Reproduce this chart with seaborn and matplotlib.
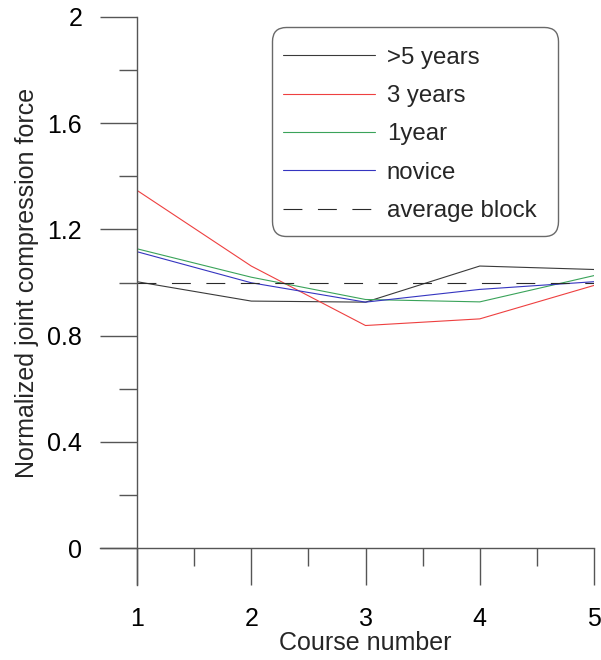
import matplotlib
matplotlib.use("Agg")
import matplotlib.pyplot as plt
from matplotlib.patches import BoxStyle
import seaborn as sns
import pandas as pd

courses = [1, 2, 3, 4, 5]
over5 = [1.003, 0.930, 0.926, 1.062, 1.049]
three = [1.347, 1.062, 0.838, 0.863, 0.989]
one = [1.127, 1.020, 0.936, 0.927, 1.026]
novice = [1.116, 0.999, 0.926, 0.974, 1.003]
average = [1.0, 1.0, 1.0, 1.0, 1.0]
labels = [">5 years", "3 years", "1year", "novice", "average block"]
colors = ["#3a3a3a", "#ee4040", "#3aa35a", "#3535c0", "#2a2a2a"]

sns.set_style("white")
plt.rcParams['font.family'] = ['Liberation Sans', 'DejaVu Sans']

fig = plt.figure(figsize=(6.01, 6.60), dpi=100)
ax = fig.add_axes([137/601, 1-548/660, (594-137)/601, (548-17)/660])

series = [over5, three, one, novice, average]
for vals, lab, col in zip(series, labels, colors):
    df = pd.DataFrame({"course": courses, "value": vals})
    sns.lineplot(data=df, x="course", y="value", ax=ax, color=col, lw=0.8,
                 label=lab)
    if lab == "average block":
        ax.lines[-1].set_dashes((17, 14))

ax.set_xlim(1, 5)
ax.set_ylim(0, 2)
ax.set_xticks([1, 2, 3, 4, 5])
ax.set_xticks([1.5, 2.5, 3.5, 4.5], minor=True)
ax.set_yticks([0, 0.4, 0.8, 1.2, 1.6, 2])
ax.set_yticklabels(["0", "0.4", "0.8", "1.2", "1.6", "2"])
ax.set_yticks([0.2, 0.6, 1.0, 1.4, 1.8], minor=True)
ax.set_xticklabels(["1", "2", "3", "4", "5"])

axcol = "#555555"
for s in ["top", "right"]:
    ax.spines[s].set_visible(False)
for s in ["left", "bottom"]:
    ax.spines[s].set_color(axcol)
    ax.spines[s].set_linewidth(1.0)
ax.spines["left"].set_bounds(-0.14, 2)
ax.spines["bottom"].set_bounds(0.68, 5)
ax.spines["left"].set_clip_on(False)
ax.spines["bottom"].set_clip_on(False)

ax.tick_params(axis="both", which="both", bottom=True, left=True,
               top=False, right=False)
ax.tick_params(axis="both", which="major", direction="out", length=26.5,
               width=1.0, color=axcol, labelsize=18, labelcolor="black")
ax.tick_params(axis="both", which="minor", direction="out", length=13,
               width=1.0, color=axcol)
ax.tick_params(axis="x", which="major", pad=16)
ax.tick_params(axis="y", which="major", pad=13)

ax.set_xlabel("Course number", fontsize=18, labelpad=0)
ax.set_ylabel("Normalized joint compression force", fontsize=18, labelpad=6)

leg = ax.legend(loc="upper left", bbox_to_anchor=(0.2954, 0.9645), fontsize=17.3,
                frameon=True, fancybox=True, handlelength=3.83, handletextpad=0.5,
                labelspacing=0.68, borderpad=0.45, borderaxespad=0)

_round = BoxStyle.Round(pad=0.0, rounding_size=0.6)


def padded_round(x0, y0, width, height, mutation_size):
    dtop = 0.375 * mutation_size
    dbot = 0.125 * mutation_size
    dxr = 0.45 * mutation_size
    return _round(x0, y0 - dbot, width + dxr, height + dtop + dbot, mutation_size)


leg.get_frame().set_boxstyle(padded_round)
leg.get_frame().set_edgecolor("#444444")
leg.get_frame().set_linewidth(1.0)

fig.savefig("out.png", dpi=100)
